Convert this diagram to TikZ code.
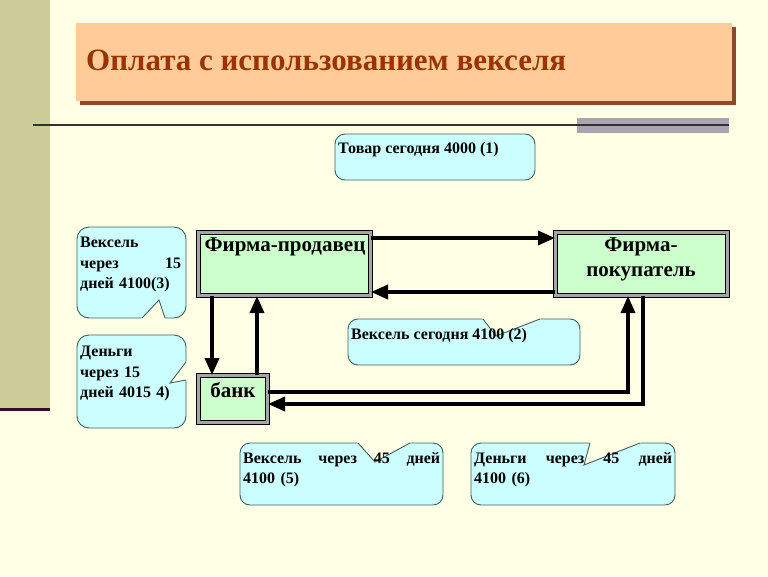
\documentclass[tikz,border=0pt]{standalone}
\usepackage{fontspec}
\setmainfont{Liberation Serif}
\usetikzlibrary{arrows.meta}
\definecolor{bg}{HTML}{FFFFE6}
\definecolor{stripe}{HTML}{CCCC99}
\definecolor{stripeline}{HTML}{3A0A28}
\definecolor{titlefill}{HTML}{FFCC99}
\definecolor{titleshadow}{HTML}{8B4A2B}
\definecolor{titletext}{HTML}{993300}
\definecolor{callfill}{HTML}{CCFFFF}
\definecolor{callline}{HTML}{3F5F5F}
\definecolor{boxgreen}{HTML}{CCFFCC}
\definecolor{barGray}{HTML}{A9A6B1}
\begin{document}
\begin{tikzpicture}[x=1pt,y=-1pt,
  fbox/.style={draw=black, line width=1pt, double=gray!70, double distance=3pt, fill=boxgreen, inner sep=0pt},
  boxtext/.style={font=\fontsize{21}{25}\selectfont\bfseries, align=center, inner sep=0pt},
  callout/.style={draw=callline, line width=0.9pt, fill=callfill, rounded corners=10pt},
  notchfill/.style={fill=bg, draw=none},
  notchline/.style={draw=callline, line width=0.9pt},
  ctext/.style={font=\fontsize{16}{20.5}\selectfont\bfseries, align=left, inner sep=0pt, anchor=north west},
  arr/.style={line width=3.5pt, -{Triangle[length=17pt,width=14pt]}}
]
\useasboundingbox (0,0) rectangle (768,576);
\fill[bg] (0,0) rectangle (768,576);
\fill[stripe] (0,0) rectangle (50,408);
\fill[stripeline] (0,408) rectangle (50,411);

% title
\fill[titleshadow] (80,27) rectangle (736,105);
\fill[titlefill] (76,23) rectangle (732,101);
\node[anchor=west, inner sep=0pt, text=titletext, font=\fontsize{31}{35}\selectfont\bfseries] (title) at (86,60) {Оплата с использованием векселя};

% rule and bar
\fill[barGray] (577,118) rectangle (729,133);
\draw[line width=1.8pt, black!80] (33,125) -- (729,125);

% boxes
\node[fbox, minimum width=172pt, minimum height=63pt] (seller) at (284.5,264) {};
\node[fbox, minimum width=172pt, minimum height=63pt] (buyer) at (641.5,264) {};
\node[fbox, minimum width=69pt, minimum height=47pt] (bank) at (233,399) {};
\node[boxtext] (sellert) at (285,247) {Фирма-продавец};
\node[boxtext] (buyert) at (641,259) {Фирма-\\покупатель};
\node[boxtext] (bankt) at (233,390) {банк};

% arrows
\draw[arr] ([yshift=-6pt]seller.north east) -- ([yshift=-6pt]buyer.north west);
\draw[arr] ([yshift=4pt]buyer.south west) -- ([yshift=4pt]seller.south east);
\draw[arr] ([xshift=14pt]seller.south west) -- ([xshift=14pt]bank.north west);
\draw[arr] ([xshift=59pt]bank.north west) -- ([xshift=59pt]seller.south west);
\draw[arr] ([yshift=7pt]bank.east) -| ([xshift=73pt]buyer.south west);
\draw[arr] ([xshift=88pt]buyer.south west) |- ([yshift=-5pt]bank.east);

% callout 1
\draw[callout] (335,134) rectangle (535,180);
\node[ctext] (c1) at (338,142) {Товар сегодня 4000 (1)};

% callout 2
\draw[callout] (348,319) rectangle (580,365);
\fill[notchfill] (482,317) -- (483,319.5) -- (496,336) -- (540,319.5) -- (541,317) -- cycle;
\draw[notchline] (483,319) -- (496,336) -- (540,319);
\node[ctext] (c2) at (351,328) {Вексель сегодня 4100 (2)};

% callout 3
\draw[callout, rounded corners=12pt] (77,227) rectangle (186,318);
\fill[notchfill] (141,320) -- (142,317.5) -- (159,300) -- (165,317.5) -- (166,320) -- cycle;
\draw[notchline] (142,318) -- (159,300) -- (165,318);
\node[ctext, text width=101pt] (c3) at (80,237) {Вексель\\через\hfill 15\\дней 4100(3)};

% callout 4
\draw[callout, rounded corners=12pt] (77,335) rectangle (186,428);
\fill[notchfill] (188,361) -- (185.5,362) -- (170,383) -- (185.5,380) -- (188,381) -- cycle;
\draw[notchline] (186,362) -- (170,383) -- (186,380);
\node[ctext, text width=101pt] (c4) at (80,346) {Деньги\\через 15\\дней 4015 4)};

% callout 5
\draw[callout] (240,443) rectangle (443,505);
\fill[notchfill] (357,441) -- (358,443.5) -- (375,462) -- (410,443.5) -- (411,441) -- cycle;
\draw[notchline] (358,443) -- (375,462) -- (410,443);
\node[ctext, text width=197pt] (c5) at (243,452) {Вексель\hfill через\hfill 45\hfill дней\\4100 (5)};

% callout 6
\draw[callout] (471,443) rectangle (675,505);
\fill[notchfill] (589,441) -- (590,443.5) -- (584,465) -- (640,443.5) -- (641,441) -- cycle;
\draw[notchline] (590,443) -- (584,465) -- (640,443);
\node[ctext, text width=198pt] (c6) at (474,452) {Деньги\hfill через\hfill 45\hfill дней\\4100 (6)};
\end{tikzpicture}
\end{document}
